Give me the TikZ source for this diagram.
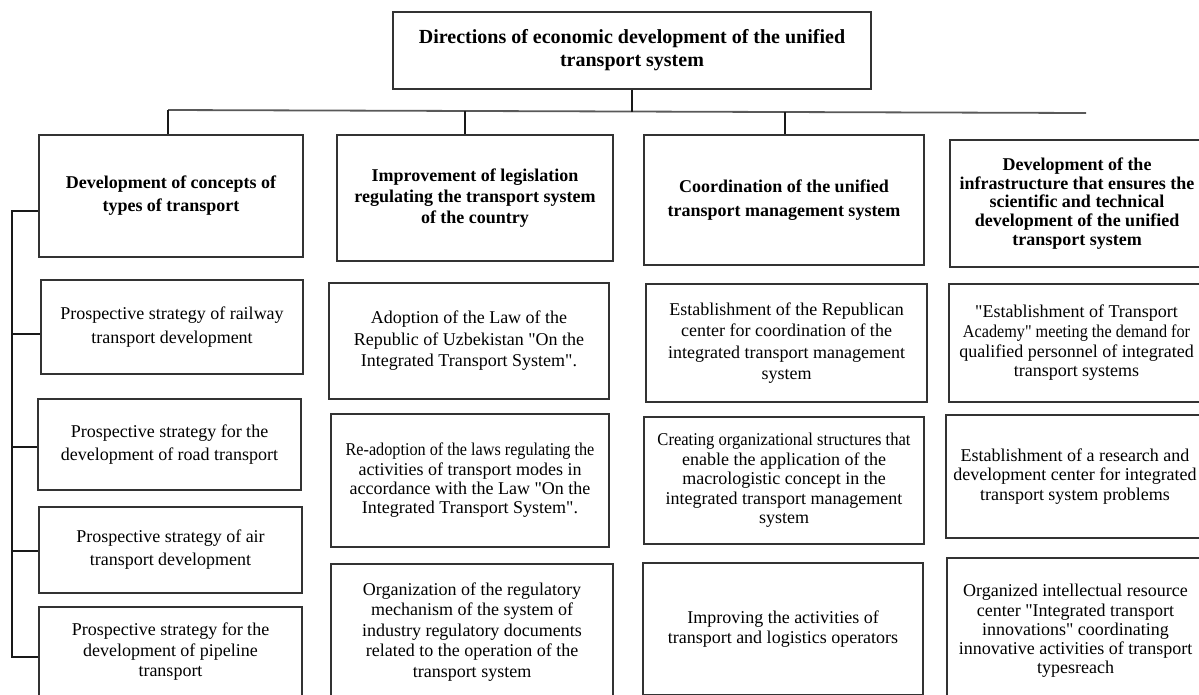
\documentclass[tikz,border=0pt]{standalone}
\usepackage{fontspec}
\setmainfont{Liberation Serif}[Ligatures=TeXOff]
\usepackage{graphicx}
\tikzset{
  box/.style={draw=black!80, line width=1.3pt, inner sep=0pt, align=center,
    font=\fontsize{18}{#1}\selectfont},
  box/.default=20.5,
  hbox/.style={draw=black!80, line width=1.3pt, inner sep=0pt, align=center,
    font=\bfseries\fontsize{18}{#1}\selectfont},
  hbox/.default=21,
  link/.style={draw=black!90, line width=1.2pt},
  bus/.style={draw=black!65, line width=1.8pt},
}
\newcommand{\mkbox}[7][box]{%
  \node[#1, minimum width={(#5-#3)*1pt}, minimum height={(#6-#4)*1pt}]
    (#2) at ({(#3+#5)/2},{(#4+#6)/2}) {#7};}
\begin{document}
\begin{tikzpicture}[x=1pt,y=-1pt]
\useasboundingbox (0,0) rectangle (1199,694);
\clip (0,0) rectangle (1199,694);

% title
\node[draw=black!80, line width=1.3pt, inner sep=0pt, align=center,
  font=\bfseries\fontsize{20}{23}\selectfont,
  minimum width=478pt, minimum height=77pt] (top) at (632,50.5)
  {Directions of economic development of the unified\\transport system};

% column 1
\mkbox[hbox=23]{h1}{39}{135}{303}{257}{Development of concepts of\\types of transport}
\mkbox[box=24]{b1}{41}{280}{303}{374}{Prospective strategy of railway\\transport development}
\mkbox[box=23]{b2}{38}{399}{301}{490}{Prospective strategy for the\\development of road transport}
\mkbox[box=23]{b3}{39}{507}{302}{593}{Prospective strategy of air\\transport development}
\mkbox[box=20.5]{b4}{39}{607}{302}{697}{Prospective strategy for the\\development of pipeline\\transport}

% column 2
\mkbox[hbox=21]{h2}{337}{135}{613}{261}{Improvement of legislation\\regulating the transport system\\of the country}
\mkbox[box=21.5]{c2a}{329}{283}{609}{399}{Adoption of the Law of the\\Republic of Uzbekistan "On the\\Integrated Transport System".}
\mkbox[box=19.3]{c2b}{331}{414}{609}{547}{\scalebox{0.9}[1]{Re-adoption of the laws regulating the}\\activities of transport modes in\\accordance with the Law "On the\\Integrated Transport System".}
\mkbox[box=20.5]{c2c}{331}{564}{613}{700}{Organization of the regulatory\\mechanism of the system of\\industry regulatory documents\\related to the operation of the\\transport system}

% column 3
\mkbox[hbox=24]{h3}{644}{135}{924}{265}{Coordination of the unified\\transport management system}
\mkbox[box=21.3]{c3a}{646}{284}{927}{402}{Establishment of the Republican\\center for coordination of the\\integrated transport management\\system}
\mkbox[box=19.5]{c3b}{644}{417}{924}{544}{\scalebox{0.92}[1]{Creating organizational structures that}\\enable the application of the\\macrologistic concept in the\\integrated transport management\\system}
\mkbox[box=20]{c3c}{643}{563}{923}{695}{Improving the activities of\\transport and logistics operators}

% column 4
\mkbox[hbox=18.8]{h4}{950}{140}{1204}{267}{Development of the\\infrastructure that ensures the\\scientific and technical\\development of the unified\\transport system}
\mkbox[box=19.7]{c4a}{949}{284}{1204}{402}{"Establishment of Transport\\\scalebox{0.9}[1]{Academy" meeting the demand for}\\qualified personnel of integrated\\transport systems}
\mkbox[box=19.5]{c4b}{946}{415}{1204}{538}{Establishment of a research and\\development center for integrated\\transport system problems}
\mkbox[box=19.3]{c4c}{947}{558}{1204}{704}{Organized intellectual resource\\center "Integrated transport\\innovations" coordinating\\innovative activities of transport\\typesreach}

% bus and drops
\coordinate (busL) at (168,110);
\coordinate (busR) at (1086,113);
\coordinate (busC) at (632,111.5);
\coordinate (d2) at (465,111);
\coordinate (d3) at (785,112);
\draw[bus] (busL) -- (busR);
\draw[link] (top.south) -- (busC);
\draw[link] (busL) -- (busL |- h1.north);
\draw[link] (d2) -- (d2 |- h2.north);
\draw[link] (d3) -- (d3 |- h3.north);

% left bracket
\coordinate (k0) at (12,211);
\coordinate (k1) at (12,334);
\coordinate (k2) at (12,447);
\coordinate (k3) at (12,551);
\coordinate (k4) at (12,657);
\draw[link] (k0 -| h1.west) -- (k0) -- (k4) -- (k4 -| b4.west);
\draw[link] (k1) -- (k1 -| b1.west);
\draw[link] (k2) -- (k2 -| b2.west);
\draw[link] (k3) -- (k3 -| b3.west);
\end{tikzpicture}
\end{document}
